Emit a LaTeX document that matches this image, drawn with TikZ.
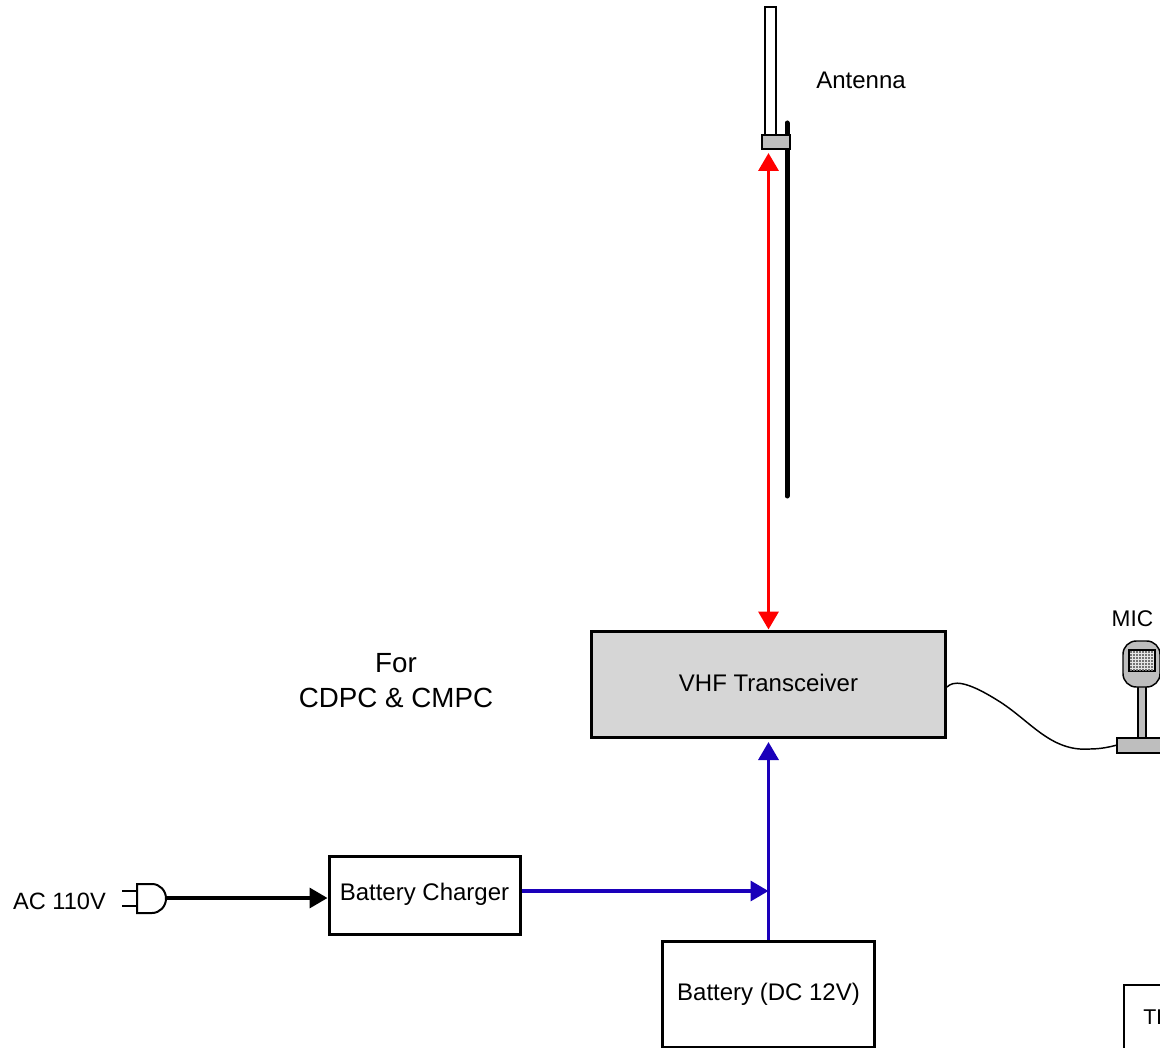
\documentclass[tikz,border=0pt]{standalone}
\usepackage{fontspec}
\setmainfont{Liberation Sans}
\usetikzlibrary{arrows.meta}
\tikzset{
  blockbox/.style={draw,line width=2.25pt,minimum width=#1,inner sep=0pt,font=\fontsize{18pt}{22pt}\selectfont},
  label/.style={inner sep=0pt,font=\fontsize{18pt}{22pt}\selectfont},
  power/.style={draw=blueline,line width=2.6pt,-{Triangle[length=13.5pt,width=15pt]}},
  radio/.style={draw=red,line width=2.6pt,{Triangle[length=13.5pt,width=15pt]}-{Triangle[length=13.5pt,width=15pt]}},
}
\definecolor{blueline}{RGB}{26,0,186}
\definecolor{partgray}{RGB}{190,190,190}
\begin{document}
\begin{tikzpicture}[x=0.75pt,y=-0.75pt]
\useasboundingbox (0,0) rectangle (1160,1048);
\clip (0,0) rectangle (1160,1048);
% blocks
\node[blockbox=265.5pt,minimum height=79.5pt,fill=black!16] (vhf) at (768.5,684) {};
\node[label] at (768.5,683) {VHF Transceiver};
\node[blockbox=143.25pt,minimum height=58.5pt] (charger) at (424.5,895) {};
\node[label] at (424.5,894.5) {Battery Charger};
\node[blockbox=159.25pt,minimum height=79.5pt] (battery) at (768.5,994) {};
\node[label] at (768.5,994) {Battery (DC 12V)};
% antenna
\draw[fill=white,line width=1pt] (765,7) rectangle (776,135);
\draw[line width=3.75pt,line cap=round] (787,123) -- (787,496);
\node[draw,line width=1pt,fill=partgray,minimum width=21pt,minimum height=10.5pt,inner sep=0pt] (antbase) at (776,142) {};
\coordinate (anttip) at (768.5,153);
\node[label] at (861,80) {Antenna};
% links
\draw[radio] (anttip) -- (vhf.north -| anttip);
\coordinate (vhfin) at (768.5,742);
\coordinate (joint) at (768.5,891);
\draw[power] (battery.north -| joint) -- (vhfin);
\draw[power] (charger.east |- joint) -- (joint);
% plug
\node[label,font=\fontsize{17.7pt}{22pt}\selectfont] (ac) at (59.5,901) {AC 110V};
\coordinate (plugtip) at (166,898);
\draw[line width=1.5pt] (137,884) -- (152,884) arc (-90:90:14 and 14.5) -- (137,913) -- cycle;
\draw[line width=1.5pt] (122,891) -- (137,891) (122,906) -- (137,906);
\draw[line width=2.6pt,-{Triangle[length=13.5pt,width=15pt]}] (plugtip) -- (charger.west |- plugtip);
\node[font=\fontsize{20.8pt}{26.5pt}\selectfont,align=center,inner sep=0pt] at (396,680.5) {For\\CDPC \& CMPC};
% mic
\node[label,font=\fontsize{17pt}{22pt}\selectfont] at (1132.5,619) {MIC};
\draw[line width=1pt,fill=partgray] (1138,685) rectangle (1146,738);
\draw[line width=1.1pt,fill=partgray,rounded corners=10pt] (1123,641) rectangle (1160,687);
\draw[line width=1pt,fill=black!10] (1129,650) rectangle (1155,671);
\foreach \yy in {652,655,...,670} {\draw[black!55,line width=1.1pt,dash pattern=on 1.5pt off 0.75pt] (1130,\yy) -- (1154,\yy);}
\draw[line width=1.1pt,fill=partgray] (1117,738) rectangle (1170,753);
\coordinate (micbase) at (1117,745);
\draw[line width=1.1pt] (vhf.east |- 0,687) .. controls (953,681) and (965,680) .. (997,700) .. controls (1030,720) and (1050,752) .. (1090,749) .. controls (1100,749) and (1110,747) .. (micbase);
% cut off box
\draw[line width=1pt] (1124,1060) -- (1124,985) -- (1170,985);
\node[anchor=west,inner sep=0pt,font=\fontsize{16pt}{20pt}\selectfont] at (1143,1017) {TH};
\end{tikzpicture}
\end{document}
